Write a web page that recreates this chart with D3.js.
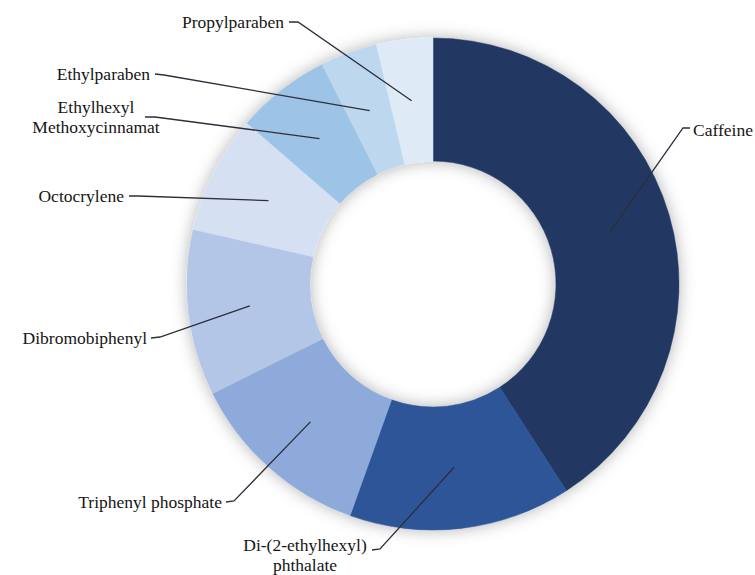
<!DOCTYPE html>
<html>
<head>
<meta charset="utf-8">
<script src="https://cdn.jsdelivr.net/npm/d3@7"></script>
<style>
  html, body { margin: 0; padding: 0; background: #ffffff; }
  svg { display: block; }
</style>
</head>
<body>
<svg id="chart" width="755" height="575"></svg>
<script>
// ---- data ----
const categories = [
  "Caffeine",
  "Di-(2-ethylhexyl) phthalate",
  "Triphenyl phosphate",
  "Dibromobiphenyl",
  "Octocrylene",
  "Ethylhexyl Methoxycinnamat",
  "Ethylparaben",
  "Propylparaben"
];
const values = [40.9, 14.6, 12.2, 10.9, 7.8, 6.2, 3.75, 3.7];
const labelLines = [
  ["Caffeine"],
  ["Di-(2-ethylhexyl)", "phthalate"],
  ["Triphenyl phosphate"],
  ["Dibromobiphenyl"],
  ["Octocrylene"],
  ["Ethylhexyl", "Methoxycinnamat"],
  ["Ethylparaben"],
  ["Propylparaben"]
];
const colors = ["#203864", "#2e5597", "#8eaadb", "#b4c6e7", "#d6e0f3", "#9dc3e6", "#bdd7ee", "#deebf7"];

// ---- layout (label placement) ----
const cx = 433, cy = 284, rOuter = 246, rInner = 123;
const FONT = "'Liberation Serif', 'Times New Roman', Tinos, 'DejaVu Serif', serif";
const labelLayout = [
  { tx: 693, ty: 130, anchor: "start",  start: [690, 128], elbow: [683, 128], lh: 0 },
  { tx: 305, ty: 545, anchor: "middle", start: [372, 550], elbow: [380, 549], lh: 20 },
  { tx: 222, ty: 502, anchor: "end",    start: [226, 502], elbow: [234, 501], lh: 0 },
  { tx: 147, ty: 338, anchor: "end",    start: [151, 338], elbow: [160, 337], lh: 0 },
  { tx: 124, ty: 196, anchor: "end",    start: [129, 196], elbow: [138, 196], lh: 0 },
  { tx: 96,  ty: 107, anchor: "middle", start: [145, 117], elbow: [155, 117], lh: 20 },
  { tx: 150, ty: 74,  anchor: "end",    start: [155, 74],  elbow: [164, 75],  lh: 0 },
  { tx: 284, ty: 22,  anchor: "end",    start: [289, 22],  elbow: [298, 22],  lh: 0 }
];

const svg = d3.select("#chart");
const defs = svg.append("defs");
const f = defs.append("filter").attr("id", "shadow")
  .attr("x", "-20%").attr("y", "-20%").attr("width", "140%").attr("height", "140%");
f.append("feDropShadow").attr("dx", 0).attr("dy", 0).attr("stdDeviation", 8)
  .attr("flood-color", "#000").attr("flood-opacity", 0.3);

const data = categories.map((c, i) => ({ name: c, value: values[i], i }));
const pie = d3.pie().sort(null).value(d => d.value).startAngle(0).endAngle(2 * Math.PI);
const arcs = pie(data);
const arc = d3.arc().innerRadius(rInner).outerRadius(rOuter);
const color = d3.scaleOrdinal().domain(categories).range(colors);

const g = svg.append("g").attr("transform", `translate(${cx},${cy})`);
const ring = g.append("g").attr("filter", "url(#shadow)");
ring.selectAll("path").data(arcs).join("path")
  .attr("d", arc)
  .attr("fill", d => color(d.data.name))
  .attr("stroke", d => color(d.data.name))
  .attr("stroke-width", 0.5);

const line = d3.line();
arcs.forEach((a, i) => {
  const L = labelLayout[i];
  const c = arc.centroid(a);
  const p = [c[0] + cx, c[1] + cy];
  svg.append("path")
    .attr("d", line([L.start, L.elbow, p]))
    .attr("fill", "none")
    .attr("stroke", "#2b2f3a")
    .attr("stroke-width", 1.3);
  const t = svg.append("text")
    .attr("font-family", FONT)
    .attr("font-size", 17.5)
    .attr("fill", "#151515")
    .attr("text-anchor", L.anchor);
  labelLines[i].forEach((s, k) => {
    t.append("tspan").attr("x", L.tx).attr("y", L.ty + 6 + k * L.lh).text(s);
  });
});
</script>
</body>
</html>
